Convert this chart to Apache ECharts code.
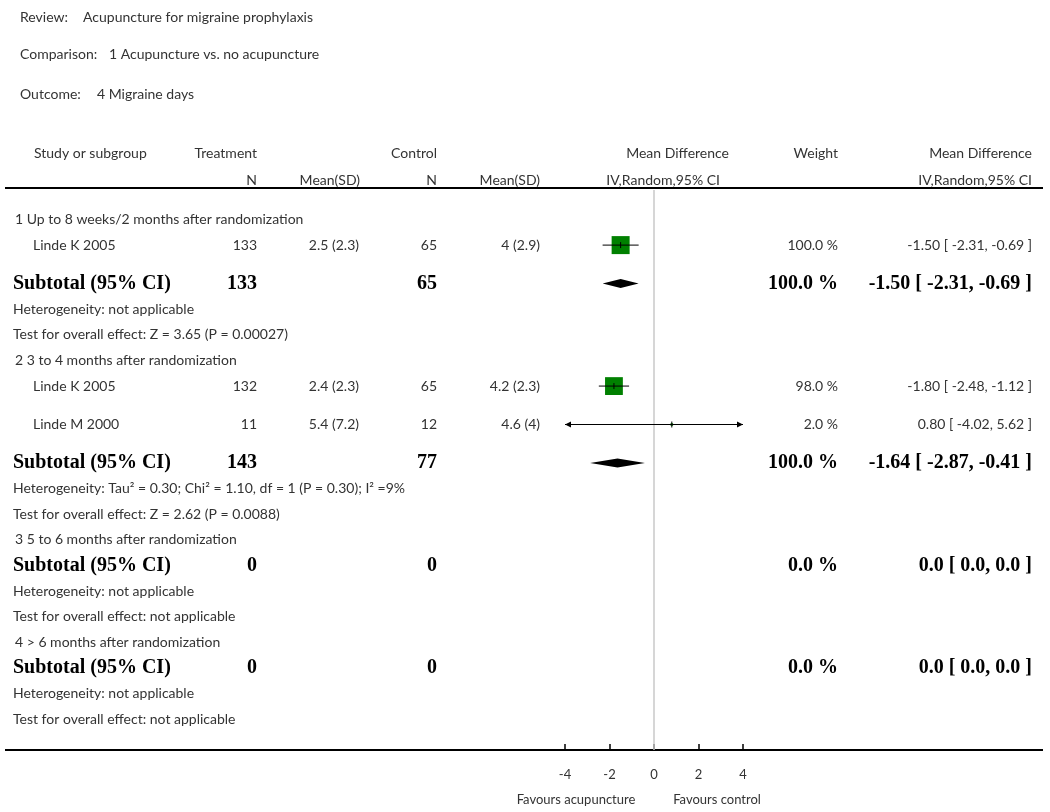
<!DOCTYPE html>
<html>
<head>
<meta charset="utf-8">
<script src="https://cdn.jsdelivr.net/npm/echarts@6/dist/echarts.min.js"></script>
<style>
  html, body { margin: 0; padding: 0; background: #fff; }
  #main { width: 1050px; height: 812px; }
</style>
</head>
<body>
<div id="main"></div>
<script>
// 数据
const groupTitles = [
  '1 Up to 8 weeks/2 months after randomization',
  '2 3 to 4 months after randomization',
  '3 5 to 6 months after randomization',
  '4 > 6 months after randomization'
];
const studyNames = ['Linde K 2005', 'Linde K 2005', 'Linde M 2000'];
const studyGroup = [0, 1, 1];
const treatN = [133, 132, 11];
const treatMeanSD = ['2.5 (2.3)', '2.4 (2.3)', '5.4 (7.2)'];
const ctrlN = [65, 65, 12];
const ctrlMeanSD = ['4 (2.9)', '4.2 (2.3)', '4.6 (4)'];
const studyMD = [-1.50, -1.80, 0.80];
const studyLow = [-2.31, -2.48, -4.02];
const studyHigh = [-0.69, -1.12, 5.62];
const studyWeight = [100.0, 98.0, 2.0];

const subTreatN = [133, 143, 0, 0];
const subCtrlN = [65, 77, 0, 0];
const subWeight = [100.0, 100.0, 0.0, 0.0];
const subMD = [-1.50, -1.64, null, null];
const subLow = [-2.31, -2.87, null, null];
const subHigh = [-0.69, -0.41, null, null];
const heterogeneity = [
  'Heterogeneity: not applicable',
  'Heterogeneity: Tau² = 0.30; Chi² = 1.10, df = 1 (P = 0.30); I² =9%',
  'Heterogeneity: not applicable',
  'Heterogeneity: not applicable'
];
const overallEffect = [
  'Test for overall effect: Z = 3.65 (P = 0.00027)',
  'Test for overall effect: Z = 2.62 (P = 0.0088)',
  'Test for overall effect: not applicable',
  'Test for overall effect: not applicable'
];
const xTicks = [-4, -2, 0, 2, 4];

// 行布局 (行单位)
const rows = [];
let yy = 0;
groupTitles.forEach((t, g) => {
  if (g > 0) yy += 1;
  rows.push({ kind: 'title', y: yy, g });
  const idx = studyGroup.map((sg, i) => sg === g ? i : -1).filter(i => i >= 0);
  idx.forEach((s, k) => { yy += k === 0 ? 1 : 1.5; rows.push({ kind: 'study', y: yy, s }); });
  yy += idx.length ? 1.5 : 1; rows.push({ kind: 'subtotal', y: yy, g });
  yy += 1; rows.push({ kind: 'het', y: yy, g });
  yy += 1; rows.push({ kind: 'test', y: yy, g });
});

const REG = '14px Lato';
const BOLD = 'bold 20px "Liberation Serif"';
const TXT = '#333';

const fmt2 = v => v.toFixed(2);
const ciText = (m, l, h) => m == null ? '0.0 [ 0.0, 0.0 ]' : fmt2(m) + ' [ ' + fmt2(l) + ', ' + fmt2(h) + ' ]';

function txt(x, y, text, align, font, color) {
  return { type: 'text', x, y, style: { text, fill: color || TXT, font: font || REG, align: align || 'left', verticalAlign: 'middle' } };
}

function renderTable(params, api) {
  const r = rows[api.value(2)];
  const py = api.coord([0, api.value(1)])[1];
  const c = [];
  if (r.kind === 'title') c.push(txt(15, py, groupTitles[r.g]));
  if (r.kind === 'study') {
    const s = r.s;
    c.push(txt(33, py, studyNames[s]));
    c.push(txt(257, py, String(treatN[s]), 'right'));
    c.push(txt(359, py, treatMeanSD[s], 'right'));
    c.push(txt(437, py, String(ctrlN[s]), 'right'));
    c.push(txt(540, py, ctrlMeanSD[s], 'right'));
    c.push(txt(838, py, studyWeight[s].toFixed(1) + ' %', 'right'));
    c.push(txt(1032, py, ciText(studyMD[s], studyLow[s], studyHigh[s]), 'right'));
  }
  if (r.kind === 'subtotal') {
    const g = r.g;
    c.push(txt(13, py, 'Subtotal (95% CI)', 'left', BOLD, '#000'));
    c.push(txt(257, py, String(subTreatN[g]), 'right', BOLD, '#000'));
    c.push(txt(437, py, String(subCtrlN[g]), 'right', BOLD, '#000'));
    c.push(txt(838, py, subWeight[g].toFixed(1) + ' %', 'right', BOLD, '#000'));
    c.push(txt(1032, py, ciText(subMD[g], subLow[g], subHigh[g]), 'right', BOLD, '#000'));
  }
  if (r.kind === 'het') c.push(txt(13, py, heterogeneity[r.g]));
  if (r.kind === 'test') c.push(txt(13, py, overallEffect[r.g]));
  return { type: 'group', children: c };
}

const X_MIN = -4, X_MAX = 4;

function renderStudy(params, api) {
  const m = api.value(0), y = api.value(1), lo = api.value(2), hi = api.value(3), w = api.value(4);
  const p = api.coord([m, y]);
  const pl = api.coord([Math.max(lo, X_MIN), y]);
  const ph = api.coord([Math.min(hi, X_MAX), y]);
  const size = 18 * Math.sqrt(w / 100);
  const c = [];
  c.push({ type: 'rect', shape: { x: p[0] - size / 2, y: p[1] - size / 2, width: size, height: size }, style: { fill: '#008000' } });
  c.push({ type: 'line', shape: { x1: pl[0], y1: pl[1], x2: ph[0], y2: ph[1] }, style: { stroke: '#000', lineWidth: 1 } });
  c.push({ type: 'line', shape: { x1: p[0], y1: p[1] - 3, x2: p[0], y2: p[1] + 3 }, style: { stroke: '#000', lineWidth: 1 } });
  if (lo < X_MIN) c.push({ type: 'polygon', shape: { points: [[pl[0], pl[1]], [pl[0] + 6, pl[1] - 3], [pl[0] + 6, pl[1] + 3]] }, style: { fill: '#000' } });
  if (hi > X_MAX) c.push({ type: 'polygon', shape: { points: [[ph[0], ph[1]], [ph[0] - 6, ph[1] - 3], [ph[0] - 6, ph[1] + 3]] }, style: { fill: '#000' } });
  return { type: 'group', children: c };
}

function renderDiamond(params, api) {
  const m = api.value(0), y = api.value(1), lo = api.value(2), hi = api.value(3);
  const a = api.coord([lo, y]), b = api.coord([m, y]), d = api.coord([hi, y]);
  const h = 4.5;
  return { type: 'polygon', shape: { points: [[a[0], a[1]], [b[0], b[1] - h], [d[0], d[1]], [b[0], b[1] + h]] }, style: { fill: '#000' } };
}

const studyData = rows.filter(r => r.kind === 'study').map(r => [studyMD[r.s], r.y, studyLow[r.s], studyHigh[r.s], studyWeight[r.s]]);
const diamondData = rows.filter(r => r.kind === 'subtotal' && subMD[r.g] != null).map(r => [subMD[r.g], r.y, subLow[r.g], subHigh[r.g]]);
const tableData = rows.map((r, i) => [0, r.y, i]);

const hdr = (x, y, text, align) => ({ type: 'text', x, y, style: { text, font: REG, fill: TXT, align: align || 'left', verticalAlign: 'middle' } });

const chart = echarts.init(document.getElementById('main'));
chart.setOption({
  backgroundColor: '#fff',
  animation: false,
  grid: { left: 565, right: 307, top: 190, bottom: 62 },
  xAxis: {
    type: 'value', min: X_MIN, max: X_MAX, interval: 2, position: 'bottom',
    axisLine: { show: false, onZero: false },
    axisTick: { show: true, inside: true, length: 6, lineStyle: { color: '#000', width: 1.5 } },
    axisLabel: { margin: 18, color: TXT, fontFamily: 'Lato', fontSize: 13, customValues: xTicks },
    splitLine: { show: false }
  },
  yAxis: { type: 'value', inverse: true, min: -1.15, max: 20.7, show: false },
  graphic: [
    hdr(20, 17, 'Review:'),
    hdr(83, 17, 'Acupuncture for migraine prophylaxis'),
    hdr(20, 54, 'Comparison:'),
    hdr(109, 54, '1 Acupuncture vs. no acupuncture'),
    hdr(20, 94, 'Outcome:'),
    hdr(97, 94, '4 Migraine days'),
    hdr(34, 153, 'Study or subgroup'),
    hdr(257, 153, 'Treatment', 'right'),
    hdr(437, 153, 'Control', 'right'),
    hdr(729, 153, 'Mean Difference', 'right'),
    hdr(838, 153, 'Weight', 'right'),
    hdr(1032, 153, 'Mean Difference', 'right'),
    hdr(257, 180, 'N', 'right'),
    hdr(360, 180, 'Mean(SD)', 'right'),
    hdr(437, 180, 'N', 'right'),
    hdr(540, 180, 'Mean(SD)', 'right'),
    hdr(720, 180, 'IV,Random,95% CI', 'right'),
    hdr(1032, 180, 'IV,Random,95% CI', 'right'),
    { type: 'line', shape: { x1: 5, y1: 188, x2: 1043, y2: 188 }, style: { stroke: '#000', lineWidth: 2 } },
    { type: 'line', shape: { x1: 5, y1: 750, x2: 1043, y2: 750 }, style: { stroke: '#000', lineWidth: 2 } },
    { type: 'text', x: 576, y: 800, style: { text: 'Favours acupuncture', font: '13px Lato', fill: TXT, align: 'center', verticalAlign: 'middle' } },
    { type: 'text', x: 717, y: 800, style: { text: 'Favours control', font: '13px Lato', fill: TXT, align: 'center', verticalAlign: 'middle' } }
  ],
  series: [
    {
      name: 'table', type: 'custom', silent: true, clip: false,
      renderItem: renderTable, data: tableData, z: 3
    },
    {
      name: 'studies', type: 'custom', silent: true, clip: false,
      renderItem: renderStudy, data: studyData, z: 5,
      markLine: {
        silent: true, symbol: 'none', label: { show: false },
        lineStyle: { color: '#c8c8c8', width: 1.5, type: 'solid' },
        data: [{ xAxis: 0 }]
      }
    },
    {
      name: 'subtotals', type: 'custom', silent: true, clip: false,
      renderItem: renderDiamond, data: diamondData, z: 5
    }
  ]
});
</script>
</body>
</html>
